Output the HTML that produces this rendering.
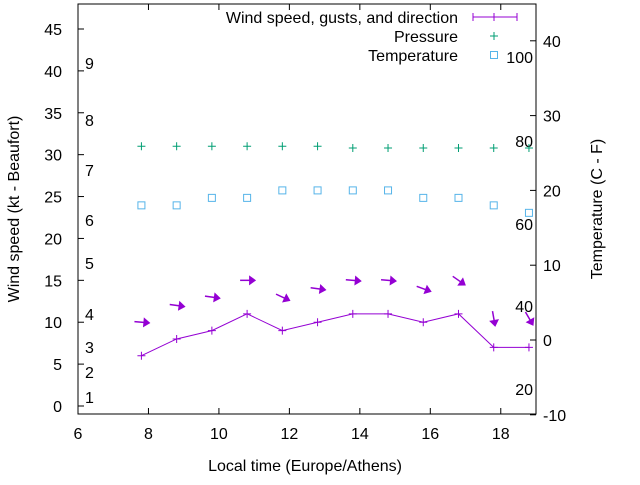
<!DOCTYPE html>
<html><head><meta charset="utf-8"><style>
body{margin:0;background:#fff}
svg text{font-family:"Liberation Sans",sans-serif;font-size:16px;fill:#000}
</style></head><body>
<svg id="c" width="640" height="480" xmlns="http://www.w3.org/2000/svg"></svg>
<script>
const times=[7.8,8.8,9.8,10.8,11.8,12.8,13.8,14.8,15.8,16.8,17.8,18.8];
const wind=[6,8,9,11,9,10,11,11,10,11,7,7];
const gusts=[10,12,13,15,13,14,15,15,14,15,10.5,10.5];
const dirAngle=[-5,-8,-8,0,-25,-8,-5,-5,-20,-35,-80,-60];
const pressure=[31,31,31,31,31,31,30.8,30.8,30.8,30.8,30.8,30.8];
const temps=[18,18,19,19,20,20,20,20,19,19,18,17];
const xTicks=[6,8,10,12,14,16,18];
const yTicks=[0,5,10,15,20,25,30,35,40,45];
const y2Ticks=[-10,0,10,20,30,40];
const beaufort=[[1,397],[2,372],[3,347],[4,314],[5,263],[6,220],[7,170],[8,120],[9,63]];
const fahr=[[100,57],[80,141],[60,224],[40,306],[20,389]];
const L=78,R=536,T=4,B=414;
const X=v=>L+(v-6)*(R-L)/13;
const Y=v=>406-v*8.378;
const Y2=v=>340-v*7.48;
const svg=document.getElementById('c');
const NS='http://www.w3.org/2000/svg';
function mk(tag,at,txt){const e=document.createElementNS(NS,tag);for(const k in at)e.setAttribute(k,at[k]);if(txt!==undefined)e.textContent=txt;svg.appendChild(e);return e;}
let e;
e=mk('rect',{x:L,y:T,width:R-L,height:B-T,fill:'none',stroke:'#000','stroke-width':1});


xTicks.forEach(t=>{const x=X(t);
 e=mk('path',{d:`M${x} ${B}v-6M${x} ${T}v6`,stroke:'#000'});
 
 
 e=mk('text',{x:x,y:B+25,'text-anchor':'middle'},t);
 
 });
yTicks.forEach(t=>{const y=Y(t);
 e=mk('path',{d:`M${L} ${y}h6`,stroke:'#000'});
 
 
 e=mk('text',{x:62,y:y+6,'text-anchor':'end'},t);
 
 });
y2Ticks.forEach(t=>{const y=Y2(t);
 e=mk('path',{d:`M${R} ${y}h-6`,stroke:'#000'});
 
 
 e=mk('text',{x:543,y:y+6},t);
 
 });
beaufort.forEach(([v,y])=>{e=mk('text',{x:85,y:y+6},v);
 
 });
fahr.forEach(([v,y])=>{e=mk('text',{x:533,y:y+6,'text-anchor':'end'},v);
 
 });
e=mk('text',{x:305,y:471,'text-anchor':'middle'},'Local time (Europe/Athens)');


e=mk('text',{x:0,y:0,'text-anchor':'middle',transform:'translate(19,209) rotate(-90)'},'Wind speed (kt - Beaufort)');


e=mk('text',{x:0,y:0,'text-anchor':'middle',transform:'translate(602,209) rotate(-90)'},'Temperature (C - F)');


// wind line
e=mk('polyline',{points:times.map((t,i)=>X(t)+','+Y(wind[i])).join(' '),fill:'none',stroke:'#9400d3','stroke-width':1});


times.forEach((t,i)=>{const x=X(t),y=Y(wind[i]);
 e=mk('path',{d:`M${x-4} ${y}h8M${x} ${y-4}v8`,stroke:'#9400d3'});
 
 
 const gx=X(t),gy=Y(gusts[i]),a=dirAngle[i];
 e=mk('g',{transform:`translate(${gx},${gy}) rotate(${-a})`});
 
 
 const l=document.createElementNS(NS,'path');l.setAttribute('d','M-7 0H5');l.setAttribute('stroke','#9400d3');l.setAttribute('stroke-width','1.5');e.appendChild(l);
 const h=document.createElementNS(NS,'path');h.setAttribute('d','M9 0L2 -5L2 5Z');h.setAttribute('fill','#9400d3');e.appendChild(h);
});
pressure.forEach((p,i)=>{const x=X(times[i]),y=Y(p);
 e=mk('path',{d:`M${x-4} ${y}h8M${x} ${y-4}v8`,stroke:'#009e73'});
 
 });
temps.forEach((v,i)=>{const x=X(times[i]),y=Y2(v);
 e=mk('rect',{x:x-3.5,y:y-3.5,width:7,height:7,fill:'none',stroke:'#56b4e9'});
 
 });
// legend
const leg=[['Wind speed, gusts, and direction',17],['Pressure',36],['Temperature',55]];
leg.forEach(([s,y])=>{e=mk('text',{x:458,y:y+6,'text-anchor':'end'},s);
 
 });
e=mk('path',{d:'M473 17H517M473 13v8M517 13v8M494 13v8',stroke:'#9400d3'});


e=mk('path',{d:'M490 36h8M494 32v8',stroke:'#009e73'});


e=mk('rect',{x:490.5,y:51.5,width:7,height:7,fill:'none',stroke:'#56b4e9'});


</script>
</body></html>
